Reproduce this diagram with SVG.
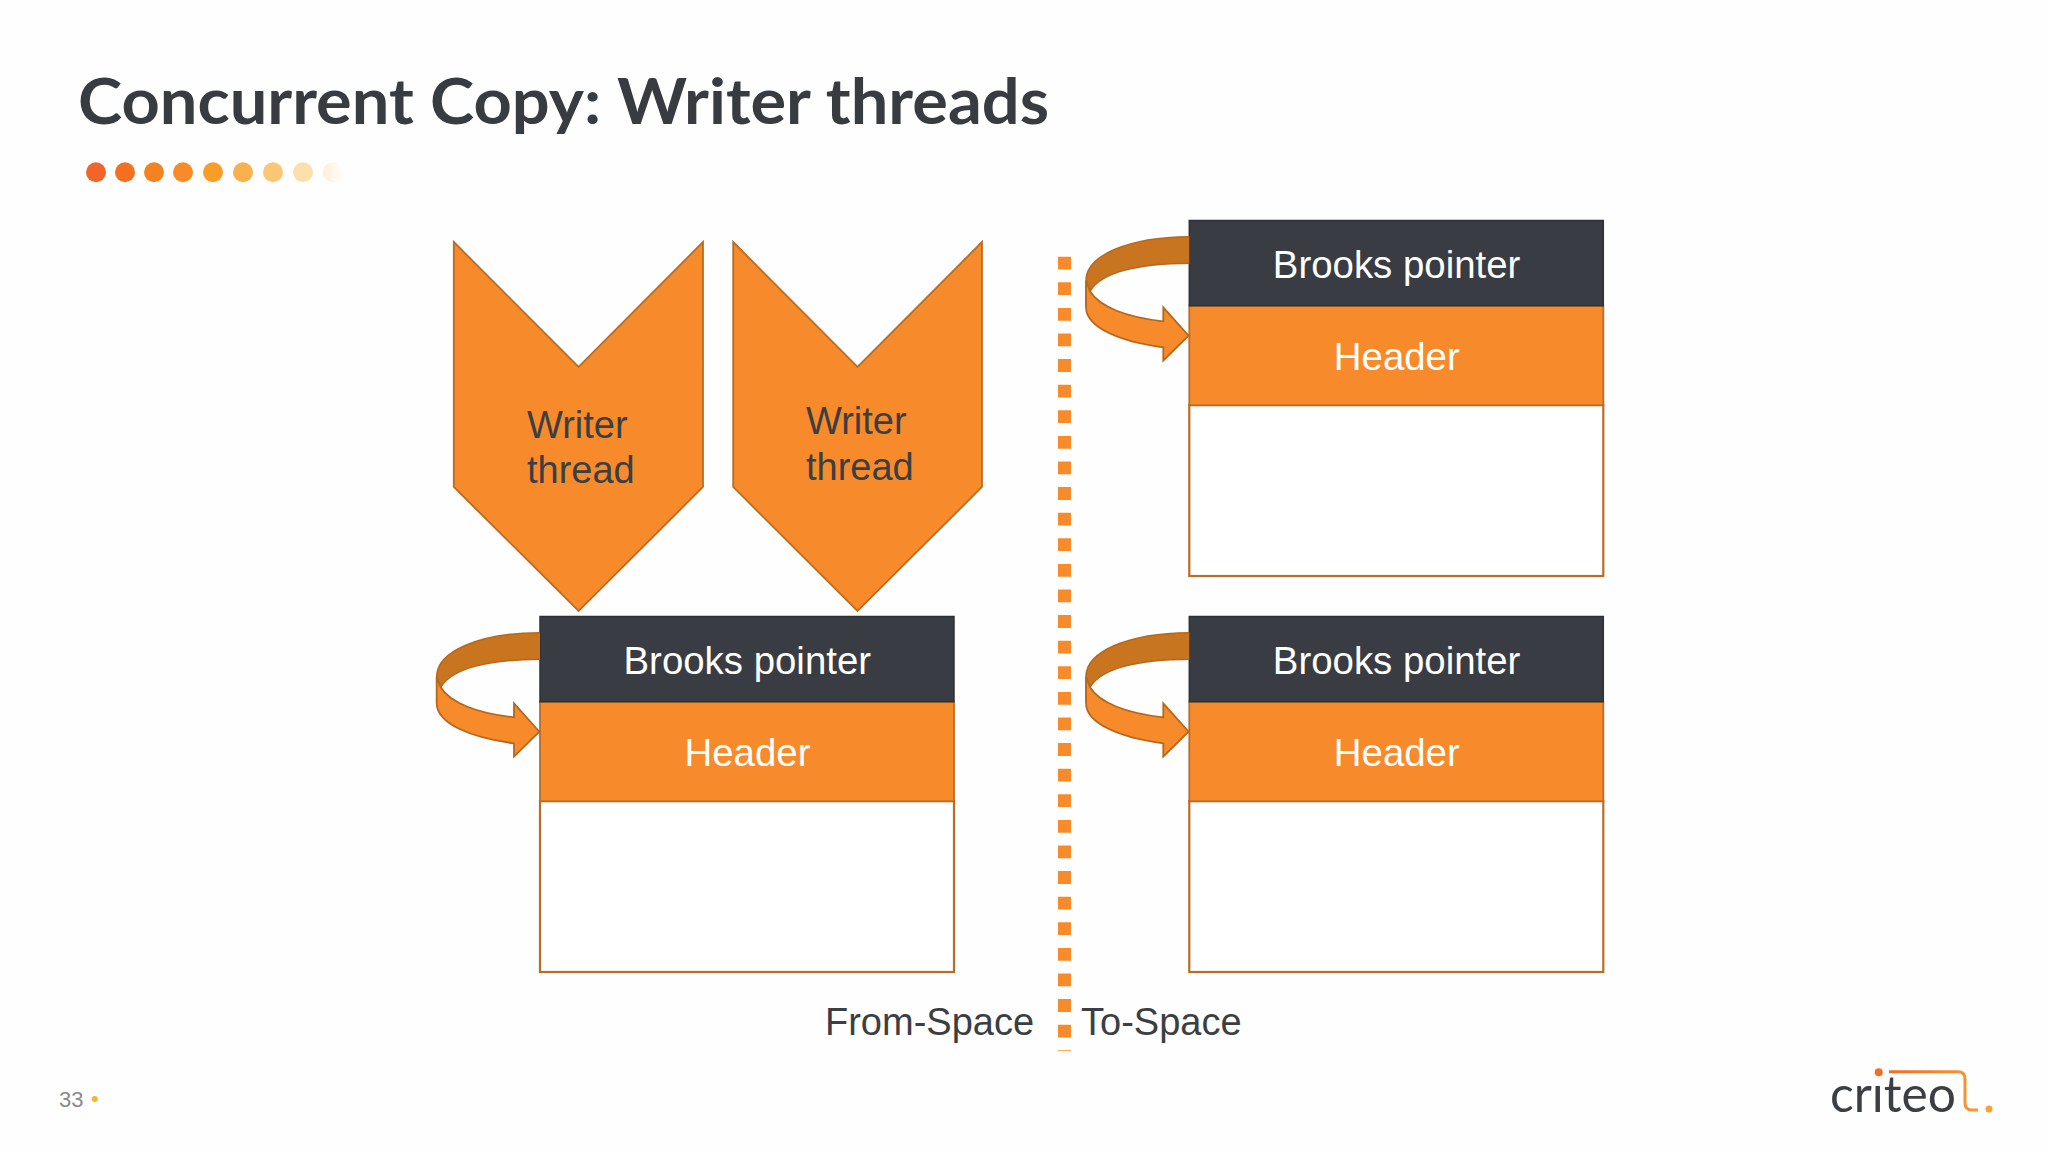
<svg xmlns="http://www.w3.org/2000/svg" xmlns:xlink="http://www.w3.org/1999/xlink" width="2048" height="1152" viewBox="0 0 2048 1152">
<style>
text{font-family:"Liberation Sans",Arial,sans-serif}
.t{font-size:38.4px;fill:#fff;text-anchor:middle}
.d{font-size:38px;fill:#3b3e43}
.dark{fill:#393c42;stroke:#2e3136;stroke-width:1.5}
.org{fill:#f78b2b;stroke:#b96d24;stroke-width:1.8}
.box{fill:#fff;stroke:#b96d24;stroke-width:2.2}
.chev{fill:#f78b2b;stroke:#b96d24;stroke-width:1.8}
</style>
<defs>
<linearGradient id="fade" x1="0" x2="1" y1="0" y2="0"><stop offset="0" stop-color="#fdeed8"/><stop offset="1" stop-color="#fefefe"/></linearGradient>
<linearGradient id="rail" x1="0" x2="1" y1="0" y2="0"><stop offset="0" stop-color="#f26d25"/><stop offset="1" stop-color="#f79a30"/></linearGradient>
<g id="curl">
<path d="M540 632.7C478 633 436.7 652 436.7 676.7V703L440.7 687.3C452 668 490 659.5 540 659.3Z" fill="#c9741f"/>
<path d="M540 632.7C478 633 436.7 652 436.7 676.7V703M540 659.3C490 659.5 452 668 440.7 687.3" fill="none" stroke="#b5681c" stroke-width="1.5"/>
<path d="M440.7 687.3C450 703 478 713.5 514 717.3V703.3L539.3 731.7L514 756.7V743.3C472 738 436.7 724 436.7 703V676.7Z" fill="#f78b2b" stroke="#b5681c" stroke-width="1.8"/>
</g>
<g id="stack">
<rect class="box" x="540" y="801" width="414" height="171"/>
<rect class="org" x="540" y="701.7" width="414" height="99.6"/>
<rect class="dark" x="540" y="616.5" width="414" height="85.2"/>
<text class="t" x="747.3" y="674">Brooks pointer</text>
<text class="t" x="747.5" y="766">Header</text>
<use xlink:href="#curl" href="#curl"/>
</g>
</defs>
<rect width="2048" height="1152" fill="#fefefe"/>
<g id="title">
<text x="78" y="124" font-size="64" font-weight="700" fill="#383b40" style="font-family:Lato,'Liberation Sans',sans-serif" textLength="971" lengthAdjust="spacingAndGlyphs">Concurrent Copy: Writer threads</text>
</g>
<g id="dots">
<circle cx="96" cy="172.3" r="10" fill="#f26528"/>
<circle cx="125" cy="172.3" r="10" fill="#f37021"/>
<circle cx="154" cy="172.3" r="10" fill="#f58220"/>
<circle cx="183" cy="172.3" r="10" fill="#f68b28"/>
<circle cx="213" cy="172.3" r="10" fill="#f99d27"/>
<circle cx="243" cy="172.3" r="10" fill="#fbb04e"/>
<circle cx="273" cy="172.3" r="10" fill="#fdc676"/>
<circle cx="303" cy="172.3" r="10" fill="#fddfac"/>
<circle cx="333" cy="172.3" r="10" fill="url(#fade)"/>
</g>
<g id="connectors">
<line x1="1064.5" y1="256.7" x2="1064.5" y2="1051" stroke="#f78b2b" stroke-width="13" stroke-dasharray="12.8 12.8"/>
</g>
<g id="writer-1">
<path class="chev" d="M453.8 242L578.6 367L703 242V487L578.6 611L453.8 487Z"/>
<text class="d" x="527" y="437.5">Writer</text>
<text class="d" x="527" y="483">thread</text>
</g>
<g id="writer-2">
<path class="chev" d="M733.2 242L857.5 367L982 242V487L857.5 611L733.2 487Z"/>
<text class="d" x="806" y="434">Writer</text>
<text class="d" x="806" y="479.5">thread</text>
</g>
<g id="from-object"><use xlink:href="#stack" href="#stack"/></g>
<g id="to-object-top"><use xlink:href="#stack" href="#stack" transform="translate(649.3 -396)"/></g>
<g id="to-object-bottom"><use xlink:href="#stack" href="#stack" transform="translate(649.3 0)"/></g>
<g id="labels">
<text class="d" x="825" y="1035">From-Space</text>
<text class="d" x="1081" y="1035">To-Space</text>
</g>
<g id="page">
<text x="59" y="1107" font-size="22" fill="#8a8a8a">33</text>
<circle cx="94.7" cy="1099" r="3" fill="#f9b233"/>
</g>
<g id="logo">
<text x="1830" y="1112" font-size="50" fill="#3b3e43" style="font-family:Lato,'Liberation Sans',sans-serif" textLength="126" lengthAdjust="spacingAndGlyphs">criteo</text>
<rect x="1871" y="1066" width="13" height="18" fill="#fefefe"/>
<circle cx="1878.7" cy="1072.3" r="4" fill="#f26d25"/>
<path d="M1889 1071.7H1958Q1965 1071.7 1965 1079V1103Q1965 1110 1972 1110H1978" fill="none" stroke="url(#rail)" stroke-width="3"/>
<circle cx="1989" cy="1109" r="3.5" fill="#f9a030"/>
</g>
</svg>
